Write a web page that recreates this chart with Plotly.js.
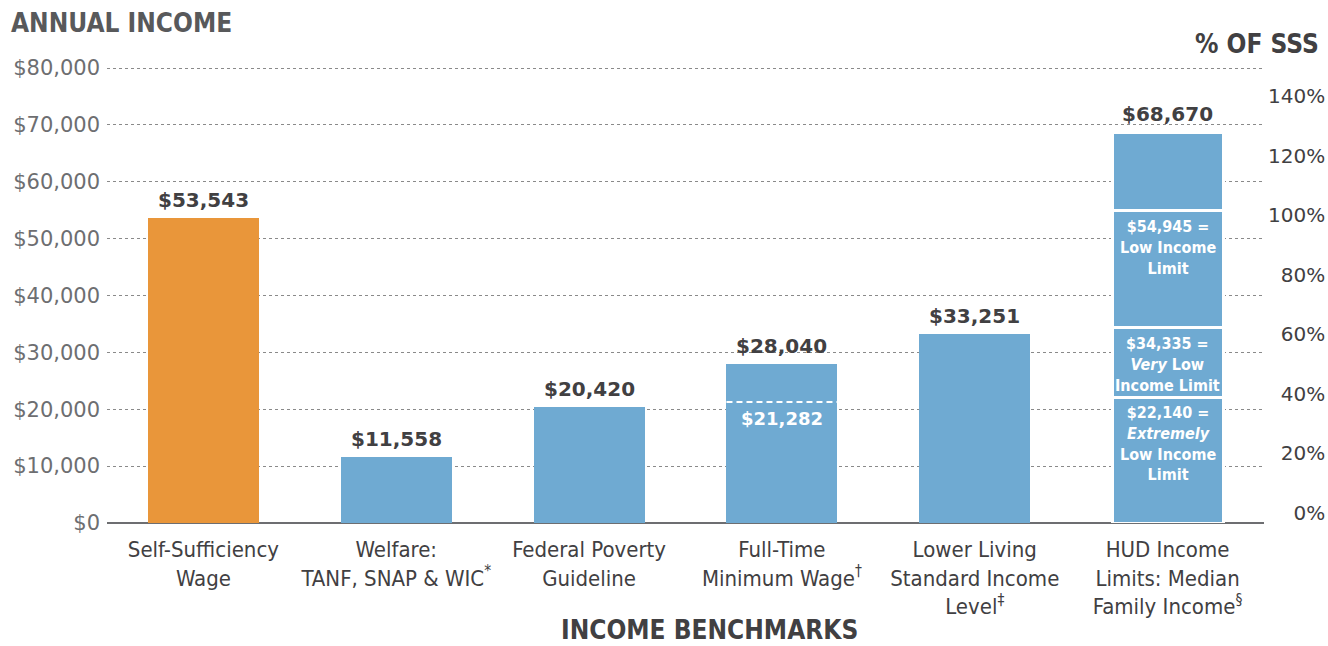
<!DOCTYPE html>
<html>
<head>
<meta charset="utf-8">
<script src="https://cdn.plot.ly/plotly-3.0.1.min.js"></script>
<style>html,body{margin:0;padding:0;background:#fff;}#chart{width:1328px;height:646px;}</style>
</head>
<body>
<div id="chart"></div>
<script>
// ---- data ----
const categories = [
  "Self-Sufficiency<br>Wage",
  "Welfare:<br>TANF, SNAP & WIC<sup>*</sup>",
  "Federal Poverty<br>Guideline",
  "Full-Time<br>Minimum Wage<sup>†</sup>",
  "Lower Living<br>Standard Income<br>Level<sup>‡</sup>",
  "HUD Income<br>Limits: Median<br>Family Income<sup>§</sup>"
];
const benchmarkValues = [53543, 11558, 20420, 28040, 33251, 68670];
const minimumWageMarker = 21282;
const hudLimits = [22140, 34335, 54945, 68670];
const hudLimitLabels = [
  "$22,140 =<br><i>Extremely</i><br>Low Income<br>Limit",
  "$34,335 =<br><i>Very</i> Low<br>Income Limit",
  "$54,945 =<br>Low Income<br>Limit"
];
const incomeTicks = [0, 10000, 20000, 30000, 40000, 50000, 60000, 70000, 80000];
const pctTicks = [0, 20, 40, 60, 80, 100, 120, 140];

// ---- styles ----
const ORANGE = "#E9963A", BLUE = "#6FAAD2", DARK = "#414042", GRAY = "#6d6e71";
const COND = "DejaVu Sans Condensed, DejaVu Sans, sans-serif";
const BARW = 0.575;
const W = 1328, H = 646, ML = 107, MR = 64, MT = 67, MB = 123;
const YMAX = 80180;
const plotW = W - ML - MR, plotH = H - MT - MB;
const px = x => (x - ML) / plotW;
const py = y => (H - MB - y) / plotH;
const fmt = v => "$" + v.toLocaleString("en-US");

const idx = categories.map((_, i) => i);
const mainIdx = idx.slice(0, 5);

const traces = [];
traces.push({
  type: "bar", x: mainIdx, y: benchmarkValues.slice(0, 5), width: BARW,
  marker: {color: mainIdx.map(i => i === 0 ? ORANGE : BLUE), line: {width: 0}},
  hoverinfo: "skip", showlegend: false
});
const hudIndex = 5;
hudLimits.forEach((v, k) => {
  const prev = k === 0 ? 0 : hudLimits[k - 1];
  traces.push({
    type: "bar", x: [hudIndex], y: [v - prev], width: BARW,
    marker: {color: BLUE, line: {color: "#ffffff", width: 3}},
    hoverinfo: "skip", showlegend: false
  });
});
traces.push({
  type: "scatter", mode: "lines",
  x: [3 - BARW / 2, 3 + BARW / 2], y: [minimumWageMarker, minimumWageMarker],
  line: {color: "#ffffff", width: 2, dash: "6px,4px"},
  hoverinfo: "skip", showlegend: false
});
const sss = benchmarkValues[0];
traces.push({
  type: "scatter", mode: "markers", x: [0], y: [0], yaxis: "y2",
  marker: {opacity: 0}, hoverinfo: "skip", showlegend: false
});

const annotations = [];
benchmarkValues.forEach((v, i) => {
  annotations.push({
    x: i, y: v, xref: "x", yref: "y", text: "<b>" + fmt(v) + "</b>", showarrow: false,
    yanchor: "bottom", yshift: 4,
    font: {family: "DejaVu Sans", size: 20, color: DARK}
  });
});
annotations.push({
  x: 3, y: minimumWageMarker, xref: "x", yref: "y", text: "<b>" + fmt(minimumWageMarker) + "</b>",
  showarrow: false, yanchor: "top", yshift: -4,
  font: {family: "DejaVu Sans", size: 18, color: "#ffffff"}
});
hudLimitLabels.forEach((t, k) => {
  annotations.push({
    x: hudIndex, y: hudLimits[k], xref: "x", yref: "y", text: "<b>" + t + "</b>",
    showarrow: false, yanchor: "top", yshift: -4,
    font: {family: COND, size: 16, color: "#ffffff"}
  });
});
annotations.push({
  x: px(9), y: py(23), xref: "paper", yref: "paper", xanchor: "left", yanchor: "middle",
  text: "<b>ANNUAL INCOME</b>", showarrow: false,
  font: {family: COND, size: 26, color: "#58595b"}
});
annotations.push({
  x: px(1321), y: py(44), xref: "paper", yref: "paper", xanchor: "right", yanchor: "middle",
  text: "<b>% OF SSS</b>", showarrow: false,
  font: {family: COND, size: 26, color: DARK}
});
annotations.push({
  x: px(709), y: py(630), xref: "paper", yref: "paper", xanchor: "center", yanchor: "middle",
  text: "<b>INCOME BENCHMARKS</b>", showarrow: false,
  font: {family: COND, size: 26, color: DARK}
});

const layout = {
  width: W, height: H,
  margin: {l: ML, r: MR, t: MT, b: MB, pad: 0},
  paper_bgcolor: "#ffffff", plot_bgcolor: "#ffffff",
  barmode: "stack", showlegend: false,
  xaxis: {
    range: [-0.5, categories.length - 0.5],
    tickmode: "array", tickvals: idx, ticktext: categories,
    showgrid: false, zeroline: false, showline: false, ticks: "",
    ticklabelstandoff: 11,
    tickfont: {family: COND, size: 22, color: DARK},
    fixedrange: true
  },
  yaxis: {
    range: [0, YMAX],
    tickmode: "array", tickvals: incomeTicks, ticktext: incomeTicks.map(fmt),
    showgrid: true, gridcolor: "#8a8a8a", griddash: "dot", gridwidth: 1,
    zeroline: true, zerolinecolor: "#6d6e71", zerolinewidth: 2,
    showline: false, ticks: "", ticklabelstandoff: 6,
    tickfont: {family: "DejaVu Sans", size: 21, color: GRAY},
    fixedrange: true
  },
  yaxis2: {
    overlaying: "y", side: "right",
    range: [-3.4, YMAX / sss * 100],
    tickmode: "array", tickvals: pctTicks,
    ticktext: pctTicks.map(v => String(v).padStart(3, "\u2007") + "%"),
    showgrid: false, zeroline: false, showline: false, ticks: "",
    ticklabelstandoff: 3,
    tickfont: {family: "DejaVu Sans", size: 20, color: DARK},
    fixedrange: true
  },
  annotations: annotations
};

Plotly.newPlot("chart", traces, layout, {displayModeBar: false, staticPlot: true});
</script>
</body>
</html>
